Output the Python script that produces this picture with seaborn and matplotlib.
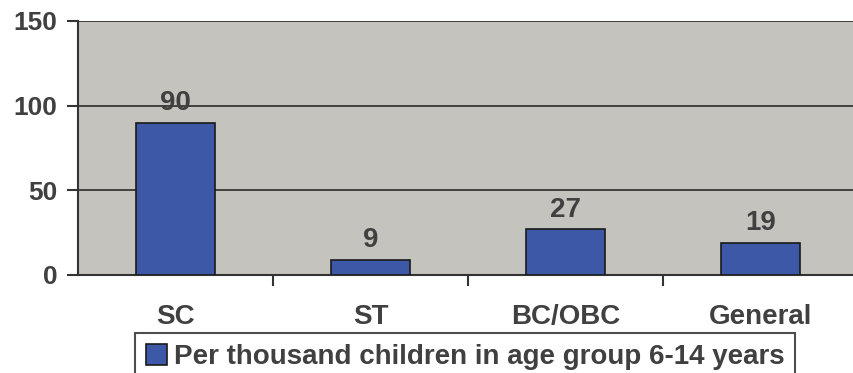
import matplotlib
matplotlib.use("Agg")
import matplotlib.pyplot as plt
import seaborn as sns
import pandas as pd
from matplotlib.patches import Patch

categories = ["SC", "ST", "BC/OBC", "General"]
values = [90, 9, 27, 19]
series_name = "Per thousand children in age group 6-14 years"
yticks = [0, 50, 100, 150]

sns.set_theme(style="white")
plt.rcParams['font.family'] = ['Liberation Sans', 'DejaVu Sans']
plt.rcParams['font.weight'] = 'bold'

text_color = "#404040"
bar_color = "#3e58a8"
bg_color = "#c4c3be"

df = pd.DataFrame({"category": categories, "value": values})

fig = plt.figure(figsize=(8.54, 3.73), dpi=100)
W, H = 854, 373
ax = fig.add_axes([78 / W, 1 - 275 / H, (858 - 78) / W, (275 - 21) / H])
ax.set_facecolor(bg_color)

sns.barplot(data=df, x="category", y="value", color=bar_color, width=0.41,
            edgecolor="#1a1a1a", linewidth=1.2, saturation=1, ax=ax, zorder=3)

ax.set_xlim(-0.5, 3.5)
ax.set_ylim(0, 150)
ax.set_yticks(yticks)
ax.set_yticklabels([str(t) for t in yticks], fontsize=19, fontweight='bold', color=text_color)
for t in yticks[1:]:
    ax.axhline(t, color="#2a2a2a", lw=1.2, zorder=1)

ax.set_xticks([0.5, 1.5, 2.5], minor=True)
ax.set_xticks(range(len(categories)))
ax.set_xticklabels(categories, fontsize=20, fontweight='bold', color=text_color)
ax.tick_params(axis='x', which='major', length=0, pad=21)
ax.tick_params(axis='x', which='minor', length=8, width=1.5, color="#333333", direction='out', bottom=True)
ax.tick_params(axis='y', length=8, width=1.5, color="#333333", direction='out', left=True, pad=7)
ax.set_xlabel("")
ax.set_ylabel("")

for s in ["top", "right"]:
    ax.spines[s].set_visible(False)
for s in ["left", "bottom"]:
    ax.spines[s].set_color("#333333")
    ax.spines[s].set_linewidth(1.5)

for i, v in enumerate(values):
    ax.text(i, v + 4, str(v), ha='center', va='bottom', fontsize=20,
            fontweight='bold', color=text_color)

handle = Patch(facecolor=bar_color, edgecolor="#1a1a1a", linewidth=1.2)
leg = fig.legend([handle], [series_name], loc='upper center',
                 bbox_to_anchor=(465 / W, 1 - 333 / H), frameon=True, fancybox=False,
                 prop={'size': 20, 'weight': 'bold'}, handlelength=0.75, handleheight=0.75,
                 handletextpad=0.25, borderpad=0.4, borderaxespad=0)
leg.get_frame().set_edgecolor("#222222")
leg.get_frame().set_linewidth(1.5)
for t in leg.get_texts():
    t.set_color(text_color)

fig.savefig("out.png", dpi=100)
